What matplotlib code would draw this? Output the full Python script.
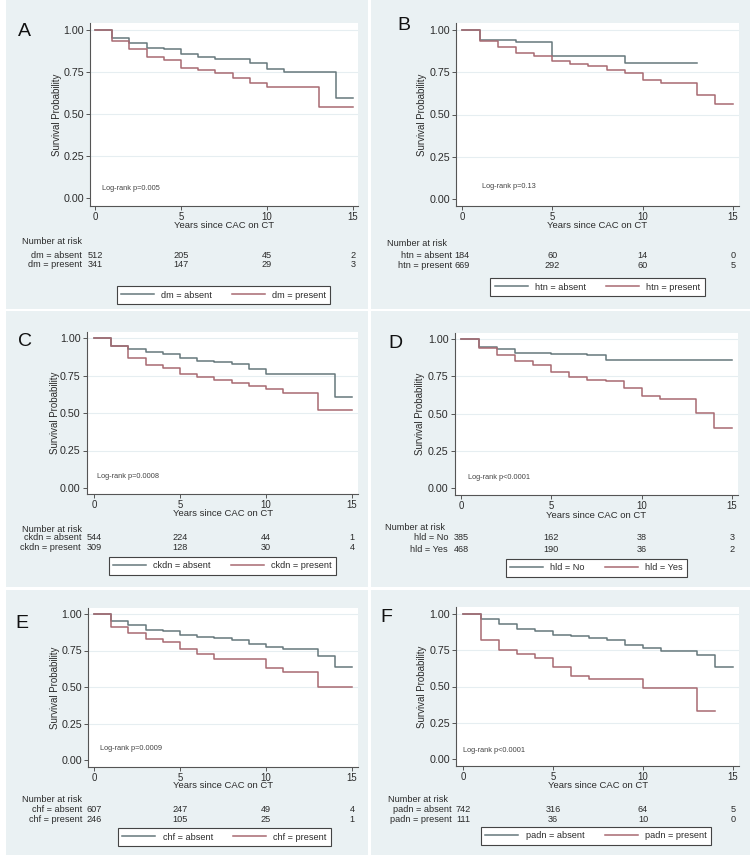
import matplotlib
matplotlib.use("Agg")
import matplotlib.pyplot as plt
from matplotlib.patches import Rectangle
from matplotlib.lines import Line2D
import matplotlib.transforms as mtrans

plt.rcParams['font.family'] = ['Liberation Sans', 'DejaVu Sans']

W, H = 750, 859
BG = '#eaf1f3'
C_ABS = '#66787c'
C_PRE = '#a86a72'
TXT = '#2b2b2b'
FS = 6.6

# ---------------- data ----------------
panel_letters = ['A', 'B', 'C', 'D', 'E', 'F']
var_names = ['dm', 'htn', 'ckdn', 'hld', 'chf', 'padn']
level_names = [('absent', 'present')] * 3 + [('No', 'Yes')] + [('absent', 'present')] * 2
logrank_texts = ['Log-rank p=0.005', 'Log-rank p=0.13', 'Log-rank p=0.0008',
                 'Log-rank p<0.0001', 'Log-rank p=0.0009', 'Log-rank p<0.0001']
risk_times = [0, 5, 10, 15]
x_ticks = [0, 5, 10, 15]
y_ticks = [0.0, 0.25, 0.5, 0.75, 1.0]
y_ticklabels = ['0.00', '0.25', '0.50', '0.75', '1.00']

A_abs_t = [0, 1, 2, 3, 4, 5, 6, 7, 9, 10, 11, 14, 15]
A_abs_s = [1.0, 0.953, 0.923, 0.894, 0.884, 0.858, 0.84, 0.827, 0.805, 0.77, 0.75, 0.598, 0.598]
A_pre_t = [0, 1, 2, 3, 4, 5, 6, 7, 8, 9, 10, 13, 15]
A_pre_s = [1.0, 0.933, 0.888, 0.839, 0.821, 0.776, 0.76, 0.742, 0.713, 0.683, 0.663, 0.543, 0.543]

B_abs_t = [0, 1, 3, 5, 9, 13]
B_abs_s = [1.0, 0.94, 0.929, 0.848, 0.805, 0.805]
B_pre_t = [0, 1, 2, 3, 4, 5, 6, 7, 8, 9, 10, 11, 13, 14, 15]
B_pre_s = [1.0, 0.937, 0.90, 0.864, 0.848, 0.819, 0.80, 0.785, 0.766, 0.746, 0.707, 0.687, 0.618, 0.563, 0.563]

C_abs_t = [0, 1, 2, 3, 4, 5, 6, 7, 8, 9, 10, 14, 15]
C_abs_s = [1.0, 0.944, 0.929, 0.906, 0.895, 0.866, 0.846, 0.839, 0.828, 0.795, 0.761, 0.609, 0.609]
C_pre_t = [0, 1, 2, 3, 4, 5, 6, 7, 8, 9, 10, 11, 13, 15]
C_pre_s = [1.0, 0.944, 0.868, 0.821, 0.80, 0.757, 0.739, 0.717, 0.699, 0.679, 0.661, 0.632, 0.52, 0.52]

D_abs_t = [0, 1, 2, 3, 5, 7, 8, 15]
D_abs_s = [1.0, 0.949, 0.931, 0.908, 0.897, 0.89, 0.858, 0.858]
D_pre_t = [0, 1, 2, 3, 4, 5, 6, 7, 8, 9, 10, 11, 13, 14, 15]
D_pre_s = [1.0, 0.938, 0.894, 0.854, 0.827, 0.777, 0.746, 0.728, 0.717, 0.668, 0.617, 0.595, 0.502, 0.40, 0.40]

E_abs_t = [0, 1, 2, 3, 4, 5, 6, 7, 8, 9, 10, 11, 13, 14, 15]
E_abs_s = [1.0, 0.951, 0.922, 0.891, 0.882, 0.855, 0.844, 0.835, 0.824, 0.795, 0.772, 0.761, 0.712, 0.635, 0.635]
E_pre_t = [0, 1, 2, 3, 4, 5, 6, 7, 10, 11, 13, 15]
E_pre_s = [1.0, 0.913, 0.868, 0.828, 0.806, 0.761, 0.723, 0.694, 0.632, 0.60, 0.50, 0.50]

F_abs_t = [0, 1, 2, 3, 4, 5, 6, 7, 8, 9, 10, 11, 13, 14, 15]
F_abs_s = [1.0, 0.964, 0.932, 0.898, 0.886, 0.857, 0.845, 0.834, 0.818, 0.789, 0.766, 0.748, 0.714, 0.636, 0.636]
F_pre_t = [0, 1, 2, 3, 4, 5, 6, 7, 10, 13, 14]
F_pre_s = [1.0, 0.823, 0.75, 0.727, 0.698, 0.636, 0.573, 0.55, 0.493, 0.334, 0.334]

risk_abs = [[512, 205, 45, 2], [184, 60, 14, 0], [544, 224, 44, 1],
            [385, 162, 38, 3], [607, 247, 49, 4], [742, 316, 64, 5]]
risk_pre = [[341, 147, 29, 3], [669, 292, 60, 5], [309, 128, 30, 4],
            [468, 190, 36, 2], [246, 105, 25, 1], [111, 36, 10, 0]]

curves = [((A_abs_t, A_abs_s), (A_pre_t, A_pre_s)),
          ((B_abs_t, B_abs_s), (B_pre_t, B_pre_s)),
          ((C_abs_t, C_abs_s), (C_pre_t, C_pre_s)),
          ((D_abs_t, D_abs_s), (D_pre_t, D_pre_s)),
          ((E_abs_t, E_abs_s), (E_pre_t, E_pre_s)),
          ((F_abs_t, F_abs_s), (F_pre_t, F_pre_s))]

# ---------------- layout (pixels) ----------------
plot_geo = [(90, 358, 23, 206, 95, 353, 30, 198),
            (456, 739, 23, 206, 462, 733, 30, 199),
            (87, 358, 332, 494, 94, 352, 338, 488),
            (455, 738, 333, 495, 461, 732, 339, 488),
            (88, 358, 608, 767, 94, 352, 614, 760),
            (456, 739, 607, 766, 463, 733, 614, 759)]
letter_pos = [(24, 32), (404, 26), (25, 342), (395, 343), (22, 624), (386, 617)]
ylabel_x = [57, 422, 55, 420, 55, 422]
xlabel_y = [226, 226, 514, 515, 786, 786]
nar_pos = [(22, 242), (387, 244), (22, 529), (385, 528), (22, 800), (388, 799)]
row_y = [(255, 265), (256, 266), (538, 548), (538, 549), (809, 819), (809, 819)]
label_right = [82, 452, 81, 448, 82, 452]
legend_box = [(119, 328, 285, 305), (489, 706, 277, 297), (112, 333, 557, 575),
              (505, 688, 559, 577), (121, 328, 828, 846), (482, 710, 827, 845)]
logrank_pos = [(102, 188), (482, 186), (97, 477), (468, 478), (100, 748), (463, 750)]
panel_rects = [(6, 368, 0, 309), (371, 750, 0, 309),
               (6, 368, 311, 587), (371, 750, 311, 587),
               (6, 368, 590, 855), (371, 750, 590, 855)]

fig = plt.figure(figsize=(W / 100, H / 100), dpi=100, facecolor='white')


def fx(px):
    return px / W


def fy(py):
    return 1 - py / H


for (l, r, t, b) in panel_rects:
    fig.patches.append(Rectangle((fx(l), fy(b)), fx(r) - fx(l), fy(t) - fy(b),
                                 transform=fig.transFigure, facecolor=BG,
                                 edgecolor='none', zorder=-10))

for i in range(6):
    l, r, t, b, x0, x15, y1, y0 = plot_geo[i]
    ax = fig.add_axes([fx(l), fy(b), fx(r) - fx(l), fy(t) - fy(b)])
    sx = (x15 - x0) / 15.0
    sy = (y0 - y1) / 1.0
    ax.set_xlim((l - x0) / sx, (r - x0) / sx)
    ax.set_ylim((y0 - b) / sy, (y0 - t) / sy)
    ax.set_facecolor('white')
    for s in ['top', 'right']:
        ax.spines[s].set_visible(False)
    for s in ['left', 'bottom']:
        ax.spines[s].set_color('#555555')
        ax.spines[s].set_linewidth(0.8)
    ax.set_xticks(x_ticks)
    ax.set_yticks(y_ticks)
    ax.set_yticklabels(y_ticklabels)
    ax.tick_params(axis='both', length=3, width=0.7, color='#555555',
                   labelcolor=TXT, pad=1.5)
    ax.tick_params(axis='x', labelsize=6.9)
    ax.tick_params(axis='y', labelsize=7.7)
    for yv in y_ticks[1:]:
        ax.axhline(yv, color='#e6eef1', lw=0.8, zorder=0)

    (ta, sa), (tp, sp) = curves[i]
    ax.step(ta, sa, where='post', color=C_ABS, lw=1.1, zorder=3)
    ax.step(tp, sp, where='post', color=C_PRE, lw=1.1, zorder=3)

    fig.text(fx(letter_pos[i][0]), fy(letter_pos[i][1]), panel_letters[i],
             fontsize=14, ha='center', va='center', color='#111111')
    fig.text(fx(ylabel_x[i]), fy((t + b) / 2), 'Survival Probability', rotation=90,
             fontsize=7, ha='center', va='center', color=TXT)
    fig.text(fx((x0 + x15) / 2), fy(xlabel_y[i]), 'Years since CAC on CT',
             fontsize=6.8, ha='center', va='center', color=TXT)
    fig.text(fx(logrank_pos[i][0]), fy(logrank_pos[i][1]), logrank_texts[i],
             fontsize=5.3, ha='left', va='center', color='#444444')
    fig.text(fx(nar_pos[i][0]), fy(nar_pos[i][1]), 'Number at risk',
             fontsize=FS, ha='left', va='center', color=TXT)

    v = var_names[i]
    la, lp = level_names[i]
    ya, yp = row_y[i]
    fig.text(fx(label_right[i]), fy(ya), f'{v} = {la}', fontsize=FS,
             ha='right', va='center', color=TXT)
    fig.text(fx(label_right[i]), fy(yp), f'{v} = {lp}', fontsize=FS,
             ha='right', va='center', color=TXT)
    trans = mtrans.blended_transform_factory(ax.transData, fig.transFigure)
    for tt, na, npres in zip(risk_times, risk_abs[i], risk_pre[i]):
        ax.text(tt, fy(ya), str(na), transform=trans, fontsize=FS,
                ha='center', va='center', color=TXT, clip_on=False)
        ax.text(tt, fy(yp), str(npres), transform=trans, fontsize=FS,
                ha='center', va='center', color=TXT, clip_on=False)

    bl, br, bt, bb = legend_box[i]
    handles = [Line2D([], [], color=C_ABS, lw=1.1), Line2D([], [], color=C_PRE, lw=1.1)]
    leg = ax.legend(handles, [f'{v} = {la}', f'{v} = {lp}'], ncol=2,
                    loc='center', bbox_to_anchor=(fx((bl + br) / 2), fy((bt + bb) / 2)),
                    bbox_transform=fig.transFigure, fontsize=FS, frameon=True,
                    fancybox=False, edgecolor='#444444', framealpha=1,
                    handlelength=3.6, handletextpad=0.8, columnspacing=2.2,
                    borderpad=0.45, borderaxespad=0)
    leg.get_frame().set_linewidth(0.8)
    for tx in leg.get_texts():
        tx.set_color(TXT)

fig.savefig('out.png', dpi=100, facecolor='white')
